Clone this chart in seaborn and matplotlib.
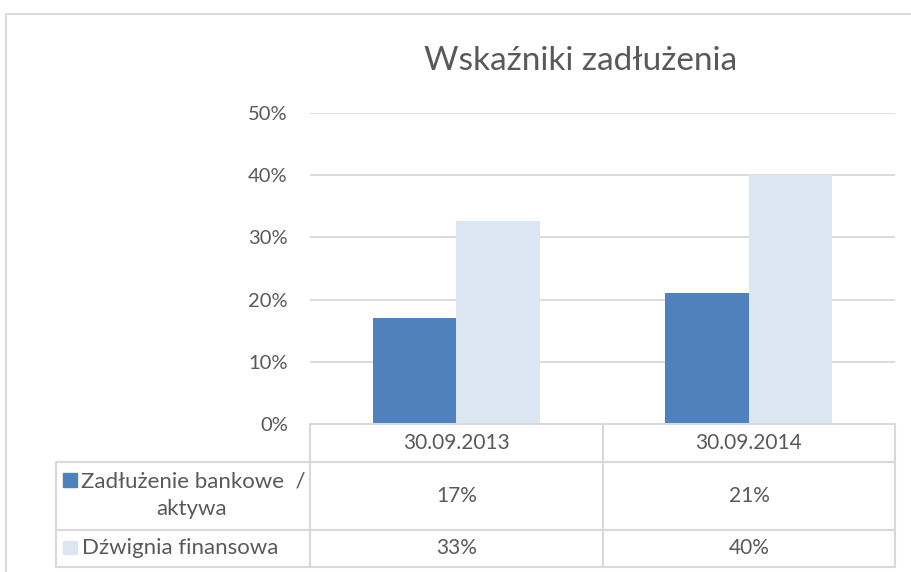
import matplotlib
matplotlib.use("Agg")
import matplotlib.pyplot as plt
from matplotlib.lines import Line2D
from matplotlib.patches import Rectangle
import seaborn as sns
import pandas as pd

# ---- data ----
categories = ["30.09.2013", "30.09.2014"]
series_names = ["Zadłużenie bankowe  /\naktywa", "Dźwignia finansowa"]
bank_debt = [0.17, 0.21]
leverage = [0.327, 0.40]
value_labels_bank = ["17%", "21%"]
value_labels_lev = ["33%", "40%"]
y_ticks = [0.0, 0.1, 0.2, 0.3, 0.4, 0.5]
y_tick_labels = ["0%", "10%", "20%", "30%", "40%", "50%"]
title = "Wskaźniki zadłużenia"

colors = ["#4F81BD", "#DCE6F2"]
text_color = "#595959"
grid_color = "#D9D9D9"

df = pd.DataFrame({
    "date": categories * 2,
    "series": [series_names[0]] * 2 + [series_names[1]] * 2,
    "value": bank_debt + leverage,
})

sns.set_theme(style="white")
plt.rcParams["font.family"] = ["Lato", "DejaVu Sans"]

W, H = 912, 572
fig = plt.figure(figsize=(W / 100, H / 100), dpi=100)

def fx(x):
    return x / W

def fy(y):
    return 1 - y / H

# plot axes
L, R, T, B = 310, 895, 113, 424
ax = fig.add_axes([fx(L), fy(B), (R - L) / W, (B - T) / H])
sns.barplot(data=df, x="date", y="value", hue="series", order=categories,
            hue_order=series_names, palette=colors, width=0.57, saturation=1,
            linewidth=0, legend=False, ax=ax)
ax.set_xlim(-0.5, 1.5)
ax.set_ylim(0, 0.5)
ax.set_yticks(y_ticks)
ax.set_yticklabels(y_tick_labels, color=text_color, fontsize=14.5)
ax.tick_params(axis="y", length=0, pad=16)
ax.set_xticks([])
ax.set_xlabel("")
ax.set_ylabel("")
for s in ax.spines.values():
    s.set_visible(False)
for t in y_ticks[1:]:
    ax.axhline(t, color=grid_color, lw=1.3, zorder=0)
ax.set_axisbelow(True)

# title
fig.text(fx(581), fy(61), title, ha="center", va="center",
         fontsize=24, color=text_color)

# outer chart border
fig.add_artist(Line2D([fx(6), fx(6)], [fy(14), fy(572)], color=grid_color, lw=1.3))
fig.add_artist(Line2D([fx(6), fx(912)], [fy(14), fy(14)], color=grid_color, lw=1.3))

# data table lines
tl = dict(color=grid_color, lw=1.5)
col_x = [310, 603, 895]
fig.add_artist(Line2D([fx(310), fx(895)], [fy(424), fy(424)], **tl))
for yy in [462, 530, 567]:
    fig.add_artist(Line2D([fx(56), fx(895)], [fy(yy), fy(yy)], **tl))
fig.add_artist(Line2D([fx(56), fx(56)], [fy(462), fy(567)], **tl))
for xx in col_x:
    fig.add_artist(Line2D([fx(xx), fx(xx)], [fy(424), fy(567)], **tl))

# header row / values
fs = 15
for i, c in enumerate(categories):
    cx = (col_x[i] + col_x[i + 1]) / 2
    fig.text(fx(cx), fy(443), c, ha="center", va="center", fontsize=fs, color=text_color)
    fig.text(fx(cx), fy(496), value_labels_bank[i], ha="center", va="center",
             fontsize=fs, color=text_color)
    fig.text(fx(cx), fy(548), value_labels_lev[i], ha="center", va="center",
             fontsize=fs, color=text_color)

# legend keys + series names
fs2 = 16
fig.add_artist(Rectangle((fx(63), fy(487)), 14 / W, 14 / H, color=colors[0],
                         transform=fig.transFigure))
fig.add_artist(Rectangle((fx(63), fy(554)), 14 / W, 13 / H, color=colors[1],
                         transform=fig.transFigure))
line1, line2 = series_names[0].split("\n")
fig.text(fx(81), fy(481), line1, ha="left", va="center", fontsize=fs2, color=text_color)
fig.text(fx(192), fy(509), line2, ha="center", va="center", fontsize=fs2, color=text_color)
fig.text(fx(82), fy(548), series_names[1], ha="left", va="center", fontsize=fs2,
         color=text_color)

fig.savefig("out.png", dpi=100)
